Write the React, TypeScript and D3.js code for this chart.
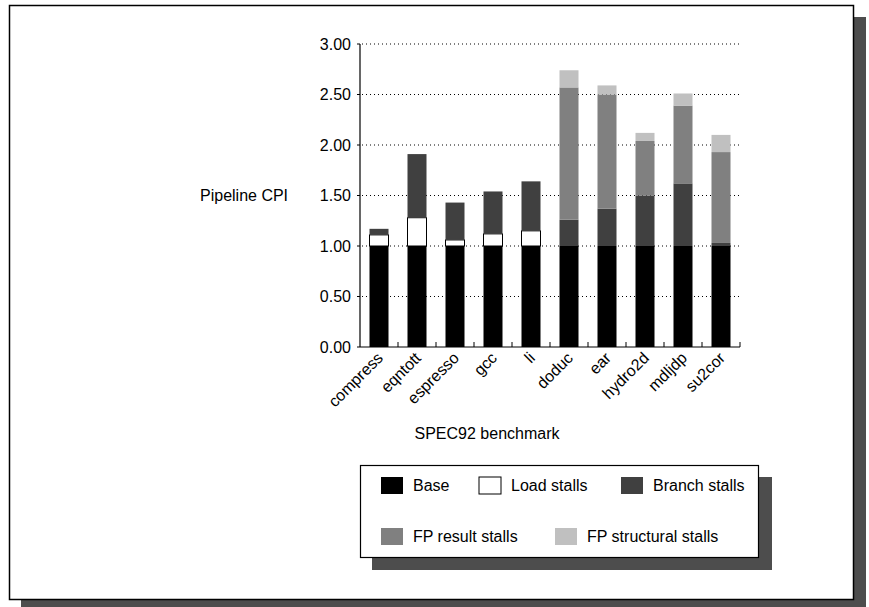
import * as d3 from "d3";

const benchmarks = ["compress", "eqntott", "espresso", "gcc", "li", "doduc", "ear", "hydro2d", "mdljdp", "su2cor"];
const seriesNames = ["Base", "Load stalls", "Branch stalls", "FP result stalls", "FP structural stalls"];
const base = [1.0, 1.0, 1.0, 1.0, 1.0, 1.0, 1.0, 1.0, 1.0, 1.0];
const loadStalls = [0.11, 0.28, 0.06, 0.12, 0.15, 0, 0, 0, 0, 0];
const branchStalls = [0.06, 0.63, 0.37, 0.42, 0.49, 0.26, 0.37, 0.5, 0.62, 0.03];
const fpResultStalls = [0, 0, 0, 0, 0, 1.31, 1.13, 0.54, 0.77, 0.9];
const fpStructStalls = [0, 0, 0, 0, 0, 0.17, 0.09, 0.08, 0.12, 0.17];
const yTicks = [0, 0.5, 1, 1.5, 2, 2.5, 3];

const fills = ["#000000", "#ffffff", "#404040", "#808080", "#c0c0c0"];
const FONT = "'Liberation Sans', Arial, sans-serif";
const FS = 16;

const W = 869;
const H = 607;
const X0 = 360;
const X1 = 740;
const Y0 = 347;
const Y1 = 44;

export default function App() {
  const rows = benchmarks.map((name, i) => ({
    name,
    s0: base[i],
    s1: loadStalls[i],
    s2: branchStalls[i],
    s3: fpResultStalls[i],
    s4: fpStructStalls[i],
  }));
  const keys = ["s0", "s1", "s2", "s3", "s4"];
  const stacked = d3.stack<any>().keys(keys)(rows);

  const x = d3.scaleBand<string>().domain(benchmarks).range([X0, X1]).paddingInner(0.5).paddingOuter(0.25);
  const y = d3.scaleLinear().domain([0, 3]).range([Y0, Y1]);
  const step = x.step();
  const boundaries = benchmarks.map((_, i) => X0 + step * (i + 1));

  // legend layout: two rows
  const legend = [
    { i: 0, lx: 381, ly: 477 },
    { i: 1, lx: 479, ly: 477 },
    { i: 2, lx: 621, ly: 477 },
    { i: 3, lx: 381, ly: 528 },
    { i: 4, lx: 555, ly: 528 },
  ];

  return (
    <svg width={W} height={H} style={{ position: "absolute", left: 0, top: 0, background: "#fff" }} fontFamily={FONT}>
      {/* page frame with shadow */}
      <rect x={21} y={17} width={845} height={595} fill="#4d4d4d" />
      <rect x={9.5} y={5.5} width={844} height={594} fill="#fff" stroke="#000" strokeWidth={1.5} />

      {/* grid */}
      {yTicks.filter((t) => t > 0).map((t) => (
        <line key={t} x1={X0 + 2} x2={X1} y1={y(t)} y2={y(t)} stroke="#000" strokeWidth={1} strokeDasharray="1,3" />
      ))}

      {/* bars */}
      {stacked.map((layer, li) => (
        <g key={li}>
          {layer.map((d, bi) => {
            const h = y(d[0]) - y(d[1]);
            if (h <= 0.01) return null;
            return (
              <rect
                key={bi}
                x={x(benchmarks[bi])}
                y={y(d[1])}
                width={x.bandwidth()}
                height={h}
                fill={fills[li]}
                stroke={li === 1 ? "#000" : "none"}
                strokeWidth={li === 1 ? 1 : 0}
              />
            );
          })}
        </g>
      ))}

      {/* axes */}
      <line x1={X0} x2={X0} y1={Y1} y2={Y0} stroke="#000" strokeWidth={1.2} />
      <line x1={X0} x2={X1} y1={Y0} y2={Y0} stroke="#000" strokeWidth={1.2} />
      {yTicks.map((t) => (
        <g key={t}>
          <line x1={X0 - 3} x2={X0} y1={y(t)} y2={y(t)} stroke="#000" />
          <text x={351} y={y(t)} dy="0.35em" textAnchor="end" fontSize={FS}>
            {t.toFixed(2)}
          </text>
        </g>
      ))}
      {boundaries.map((bx, i) => (
        <line key={i} x1={bx} x2={bx} y1={Y0} y2={Y0 - 5} stroke="#000" />
      ))}
      {benchmarks.map((b) => {
        const cx = (x(b) ?? 0) + x.bandwidth() / 2 + 5;
        return (
          <text key={b} transform={`translate(${cx},${Y0 + 12}) rotate(-45)`} textAnchor="end" fontSize={FS}>
            {b}
          </text>
        );
      })}

      <text x={200} y={201} fontSize={FS}>Pipeline CPI</text>
      <text x={487} y={439} textAnchor="middle" fontSize={FS}>SPEC92 benchmark</text>

      {/* legend */}
      <rect x={372} y={477} width={400} height={93} fill="#4d4d4d" />
      <rect x={360.5} y={465.5} width={398} height={92} fill="#fff" stroke="#000" strokeWidth={1.2} />
      {legend.map((l) => (
        <g key={l.i}>
          <rect
            x={l.lx}
            y={l.ly}
            width={22}
            height={17}
            fill={fills[l.i]}
            stroke={l.i === 1 ? "#000" : "none"}
          />
          <text x={l.lx + 32} y={l.ly + 14} fontSize={FS}>
            {seriesNames[l.i]}
          </text>
        </g>
      ))}
    </svg>
  );
}
